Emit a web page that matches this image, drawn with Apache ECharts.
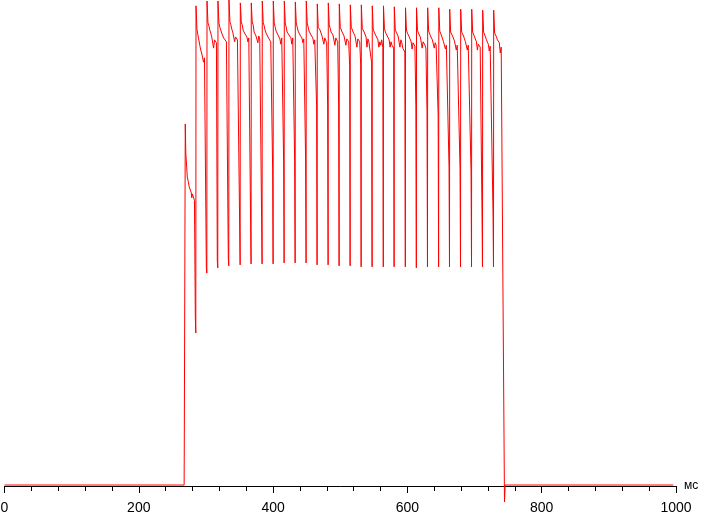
<!DOCTYPE html>
<html>
<head>
<meta charset="utf-8">
<script src="https://cdn.jsdelivr.net/npm/echarts@6/dist/echarts.min.js"></script>
<style>
html,body{margin:0;padding:0;background:#fff;}
#chart{width:703px;height:515px;}
</style>
</head>
<body>
<div id="chart"></div>
<script>
// ---- Data (time in ms, level in % of max) ----
const xTickLabels = ['0', '200', '400', '600', '800', '1000'];
const xUnit = 'мс';

// baseline and onset before the first pulse: [ms, level]
const onsetTrace = [
  [0, 0.2], [267.5, 0.2], [267.8, 10.5], [268.6, 10.5], [269.2, 74.5], [270.0, 68.5],
  [271.3, 65.6], [272.2, 63.6], [273.7, 62.6], [275.2, 61.5], [276.7, 60.9],
  [278.2, 60.3], [278.9, 59.3], [279.7, 60.1], [281.2, 59.5], [282.9, 58.8]
];

// one entry per pulse
const pulseTimes = [285.2, 301.6, 317.9, 334.3, 351.2, 367.5, 383.9, 400.3, 416.7, 433.1,
  449.4, 465.8, 482.2, 498.6, 515.0, 531.4, 547.7, 564.4, 580.5, 597.2,
  613.6, 630.2, 646.8, 663.0, 679.4, 695.8, 712.1, 728.5];
const pulsePeak = [98.8, 99.8, 99.8, 100, 99.4, 99.4, 99.8, 99.8, 99.8, 99.6,
  99.8, 99.2, 99.4, 99.2, 99.0, 99.0, 98.8, 98.8, 98.6, 98.4,
  98.4, 98.4, 98.4, 98.1, 98.1, 98.1, 97.9, 97.9];
const pulseTrough = [31.5, 43.8, 44.9, 45.3, 45.5, 45.7, 45.7, 45.7, 45.9, 45.9,
  45.9, 45.5, 45.5, 45.3, 45.3, 45.1, 45.1, 45.1, 45.1, 45.1,
  44.9, 45.1, 45.1, 45.1, 45.1, 45.1, 45.1, 45.1];
const pulseFallMid = [34.6, 44.9, 46.3, 46.9, 53.7, 54.3, 54.9, 65.4, 66.5, 66.9,
  67.3, 78.2, 78.2, 78.6, 86.4, 86.8, 87.2, 90.3, 90.1, 89.3,
  78.0, 77.0, 76.3, 65.6, 65.2, 64.6, 56.4, 56.2];
// samples after each pulse peak, every decayStepMs
const decayStepMs = 1.4;
const pulseDecay = [
  [94.0, 92.8, 91.8, 90.7, 89.7, 89.1, 88.7, 87.2, 88.1, 87.9],
  [95.3, 94.7, 93.8, 93.2, 92.4, 92.0, 90.1, 91.8, 91.4, 91.2],
  [95.3, 94.4, 93.8, 93.2, 92.8, 92.2, 91.8, 92.2, 91.4, 91.4],
  [95.5, 94.9, 94.0, 93.4, 93.2, 91.4, 92.4, 92.4, 91.8, 91.4],
  [95.5, 94.9, 93.8, 93.4, 93.0, 92.8, 92.4, 91.4, 92.2, 91.8],
  [95.5, 94.9, 93.4, 93.2, 92.6, 92.4, 91.2, 92.6, 92.0, 91.6],
  [95.3, 94.7, 93.8, 93.2, 92.8, 92.4, 92.2, 92.0, 91.4, 91.8],
  [95.3, 94.4, 93.6, 93.2, 92.8, 92.4, 92.0, 90.9, 92.2, 91.8],
  [95.3, 94.4, 93.4, 93.2, 92.8, 92.4, 92.2, 90.9, 92.2, 91.8],
  [95.3, 94.4, 93.6, 93.2, 92.8, 92.6, 92.2, 91.2, 92.0, 91.6],
  [95.3, 94.4, 93.6, 93.2, 92.8, 92.4, 92.2, 90.9, 91.8, 91.8],
  [94.4, 94.2, 93.8, 93.2, 92.6, 92.4, 90.9, 92.2, 91.8, 91.2],
  [94.9, 94.2, 93.4, 93.2, 92.8, 92.4, 90.7, 92.2, 91.8, 91.4],
  [94.4, 94.2, 93.4, 93.2, 92.6, 92.4, 90.7, 92.0, 91.6, 91.4],
  [94.4, 94.0, 93.4, 93.2, 92.6, 92.4, 90.3, 92.0, 91.8, 91.4],
  [94.2, 93.8, 93.4, 93.0, 92.4, 90.3, 92.0, 91.4, 91.2, 91.2],
  [94.0, 93.4, 93.2, 92.6, 92.2, 91.8, 90.3, 91.4, 90.7, 91.8],
  [94.2, 93.4, 93.2, 92.6, 92.2, 91.8, 90.3, 91.4, 90.7, 90.5],
  [94.0, 93.4, 93.2, 92.6, 92.2, 90.3, 91.8, 91.2, 90.1, 90.5],
  [93.8, 93.2, 92.8, 92.4, 92.0, 91.4, 89.9, 91.2, 90.9, 90.5],
  [93.8, 93.2, 92.8, 92.4, 92.0, 90.1, 91.4, 91.2, 90.7, 90.1],
  [93.6, 93.2, 92.6, 92.2, 91.8, 91.4, 90.1, 91.2, 90.7, 90.3],
  [93.6, 93.2, 92.6, 92.2, 91.4, 91.2, 89.9, 90.7, 90.5, 90.5],
  [93.4, 93.2, 92.6, 92.2, 91.6, 91.2, 89.7, 90.7, 90.3, 90.3],
  [93.4, 93.0, 92.6, 92.0, 91.4, 91.2, 89.7, 90.7, 90.5, 90.3],
  [93.4, 93.0, 92.4, 92.0, 91.4, 89.7, 90.9, 90.7, 90.3, 90.3],
  [93.4, 93.0, 92.4, 91.8, 91.4, 90.9, 89.5, 90.5, 90.1, 90.1],
  [93.2, 92.8, 92.4, 91.8, 91.4, 91.2, 89.1, 90.3, 90.7, 90.7]
];
// switch-off and baseline afterwards: [ms, level]
const offsetTrace = [[744.6, -3.3], [745.6, 0.2], [996, 0.2]];

// ---- Build the trace ----
const trace = onsetTrace.slice();
pulseTimes.forEach(function (t, i) {
  trace.push([t - 1.0, pulseFallMid[i]]);
  trace.push([t - 0.3, pulseTrough[i]]);
  trace.push([t, pulsePeak[i]]);
  pulseDecay[i].forEach(function (v, k) {
    trace.push([+(t + decayStepMs * (k + 1)).toFixed(2), v]);
  });
});
offsetTrace.forEach(function (p) { trace.push(p); });

const FONT = 'Liberation Sans, Arial, sans-serif';
const chart = echarts.init(document.getElementById('chart'), null, {renderer: 'canvas'});
chart.setOption({
  animation: false,
  backgroundColor: '#ffffff',
  grid: {
    left: 4.5, right: 27, top: 0, bottom: 29,
    outerBounds: {left: -300, top: -300, right: -300, bottom: -300}
  },
  xAxis: {
    type: 'value', min: 0, max: 1000, interval: 200,
    name: xUnit, nameLocation: 'end', nameGap: 8,
    nameTextStyle: {color: '#000', fontSize: 12, fontFamily: FONT},
    axisLine: {show: true, onZero: false, lineStyle: {color: '#000', width: 1}},
    axisTick: {show: true, length: 7, lineStyle: {color: '#000'}},
    minorTick: {show: true, splitNumber: 5, length: 5, lineStyle: {color: '#000'}},
    splitLine: {show: false},
    axisLabel: {
      color: '#000', fontSize: 14, margin: 15, fontFamily: FONT,
      formatter: function (v) { return xTickLabels[Math.round(v / 200)]; }
    }
  },
  yAxis: {type: 'value', min: 0, max: 100, show: false, splitLine: {show: false}},
  series: [{
    type: 'line', data: trace, showSymbol: false, symbol: 'none', sampling: null,
    clip: false, lineStyle: {color: '#ff0000', width: 1}, z: 3
  }]
});
</script>
</body>
</html>
